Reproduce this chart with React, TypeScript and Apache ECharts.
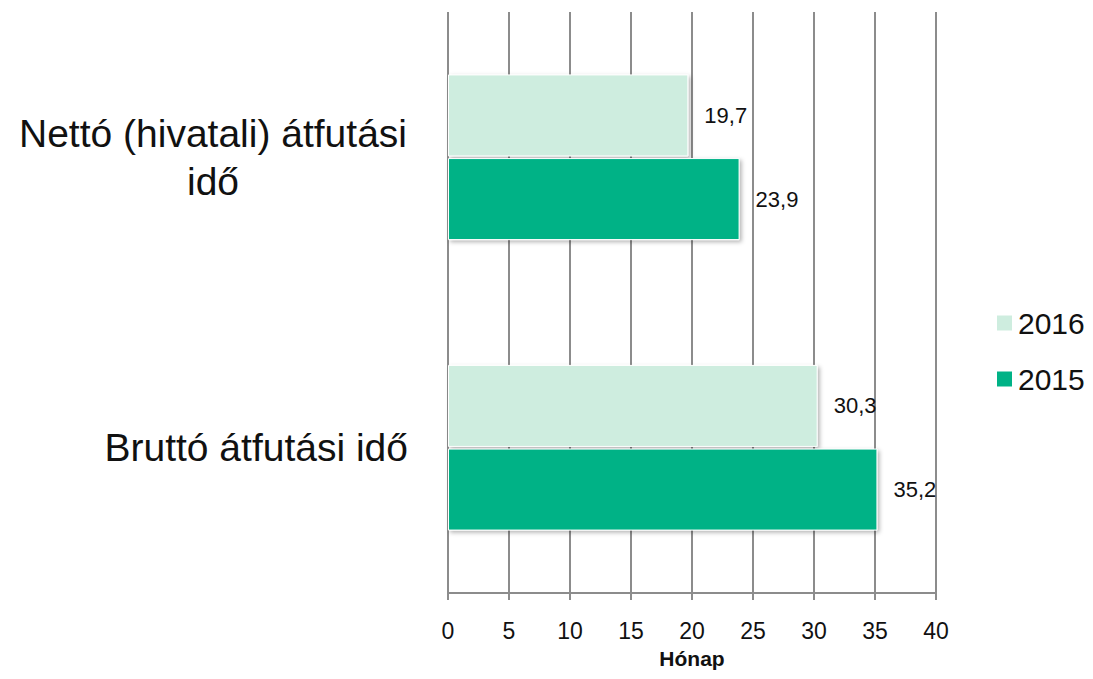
import React, { useEffect, useRef } from "react";
import * as echarts from "echarts";

const categories = ["Nettó (hivatali) átfutási idő", "Bruttó átfutási idő"];
const series2016 = [19.7, 30.3];
const series2015 = [23.9, 35.2];
const seriesNames = ["2016", "2015"];
const xTicks = { min: 0, max: 40, interval: 5 };
const axisTitle = "Hónap";

const FONT = "'Liberation Sans', Arial, sans-serif";
const LIGHT = "#ceeddf";
const DARK = "#00b286";

export default function App() {
  const ref = useRef<HTMLDivElement>(null);
  useEffect(() => {
    if (!ref.current) return;
    const chart = echarts.init(ref.current, null, { renderer: "svg" });
    const barStyle = (color: string) => ({
      color,
      borderColor: "#ffffff",
      borderWidth: 1,
      shadowColor: "rgba(0,0,0,0.3)",
      shadowBlur: 4,
      shadowOffsetX: 2,
      shadowOffsetY: 2,
    });
    const label = {
      show: true,
      position: "right" as const,
      distance: 16,
      fontFamily: FONT,
      fontSize: 22,
      color: "#111",
      formatter: (p: any) => String(p.value).replace(".", ","),
    };
    chart.setOption({
      animation: false,
      backgroundColor: "#ffffff",
      textStyle: { fontFamily: FONT },
      grid: { left: 448, right: 157, top: 12, bottom: 86, containLabel: false, outerBoundsMode: "none" },
      legend: {
        data: seriesNames,
        orient: "vertical",
        left: 990,
        top: 303,
        itemWidth: 17,
        itemHeight: 17,
        itemGap: 26,
        icon: "rect",
        textStyle: { fontFamily: FONT, fontSize: 30, color: "#111", padding: [0, 0, 0, 0] },
      },
      xAxis: {
        type: "value",
        min: xTicks.min,
        max: xTicks.max,
        interval: xTicks.interval,
        name: axisTitle,
        nameLocation: "middle",
        nameGap: 64,
        nameTextStyle: {
          fontFamily: FONT,
          fontSize: 21,
          fontWeight: "bold",
          color: "#111",
          verticalAlign: "middle",
          lineHeight: 24,
        },
        axisLine: { show: true, lineStyle: { color: "#8c8c8c", width: 2 } },
        axisTick: { show: true, length: 7, lineStyle: { color: "#8c8c8c", width: 2 } },
        axisLabel: { fontFamily: FONT, fontSize: 23, color: "#111", margin: 26 },
        splitLine: { show: true, lineStyle: { color: "#8c8c8c", width: 2 } },
      },
      yAxis: {
        type: "category",
        data: categories,
        inverse: true,
        axisLine: { show: false },
        axisTick: { show: false },
        splitLine: { show: false },
        axisLabel: {
          margin: 40,
          align: "right",
          color: "#111",
          fontFamily: FONT,
          fontSize: 39,
          lineHeight: 48,
          formatter: (v: string) =>
            v.startsWith("Nettó")
              ? "{c|Nettó (hivatali) átfutási}\n{c|idő}"
              : "{d|" + v + "}",
          rich: {
            c: { width: 390, align: "center", fontFamily: FONT, fontSize: 39, lineHeight: 48, color: "#111" },
            d: { fontFamily: FONT, fontSize: 39, lineHeight: 48, color: "#111" },
          },
        },
      },
      series: [
        {
          name: seriesNames[0],
          type: "bar",
          data: series2016,
          barWidth: 82,
          barGap: "2%",
          itemStyle: barStyle(LIGHT),
          label,
        },
        {
          name: seriesNames[1],
          type: "bar",
          data: series2015,
          barWidth: 82,
          barGap: "2%",
          itemStyle: barStyle(DARK),
          label,
        },
      ],
    });
    return () => chart.dispose();
  }, []);
  return (
    <div
      ref={ref}
      style={{ position: "fixed", left: 0, top: 0, width: 1093, height: 679 }}
    />
  );
}
